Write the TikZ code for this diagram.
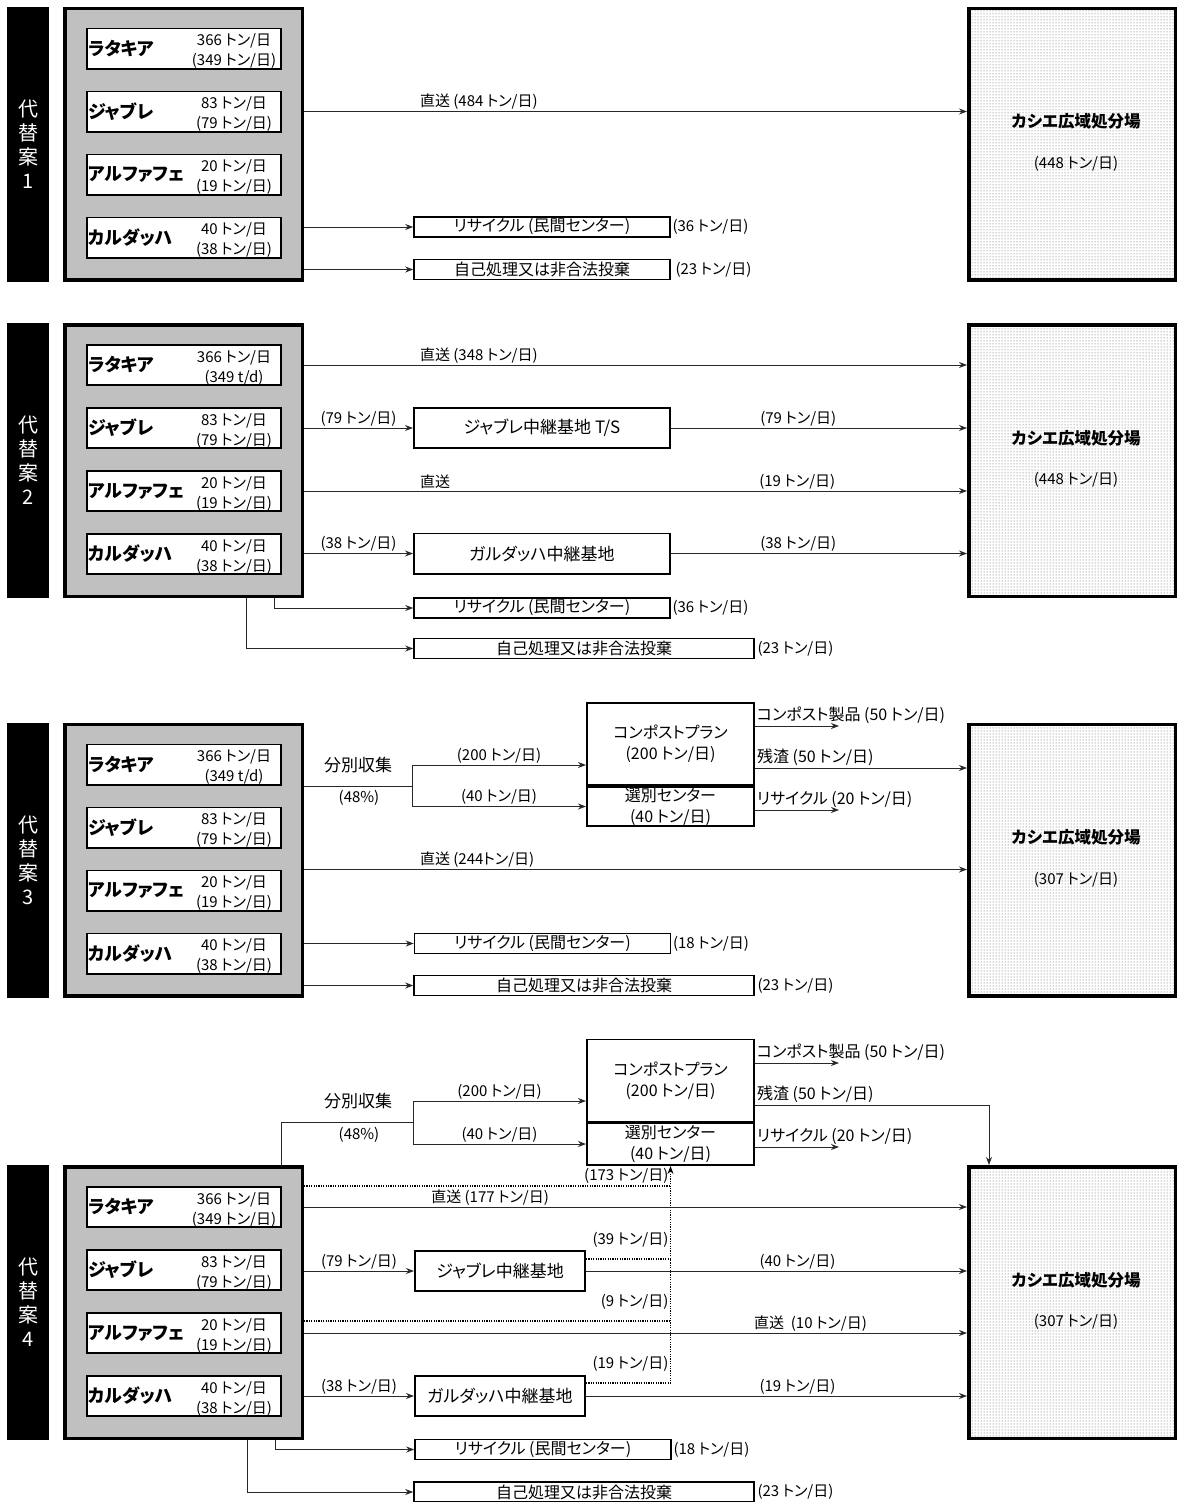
\documentclass[tikz,border=0pt]{standalone}
\usepackage{fontspec}
\setmainfont{Noto Sans CJK JP}[RawFeature=+palt]
\usetikzlibrary{arrows.meta,patterns}
\definecolor{SrcGray}{RGB}{192,192,192}
\definecolor{LineGray}{RGB}{40,40,40}

\begin{document}
\begin{tikzpicture}[x=1pt,y=-1pt,
  bar/.style={fill=black,minimum width=42pt,minimum height=275pt,text=white,align=center,
              font=\fontsize{20}{24}\selectfont},
  gbox/.style={draw,line width=3.5pt,fill=SrcGray,minimum width=237.5pt,minimum height=271.5pt},
  dump/.style={draw,line width=3.5pt,pattern=dots,pattern color=black!65,
               minimum width=206.5pt,minimum height=271.5pt},
  src/.style={draw,line width=1.6pt,fill=white,minimum width=194.4pt,minimum height=40.4pt},
  sname/.style={anchor=west,font=\fontsize{18}{20}\bfseries\selectfont,inner sep=2pt},
  samt/.style={align=center,font=\fontsize{15}{20}\selectfont,inner sep=0pt},
  dname/.style={font=\fontsize{16.5}{20}\bfseries\selectfont},
  damt/.style={font=\fontsize{15}{16}\selectfont},
  relay/.style={draw,line width=1.6pt,fill=white,minimum height=40.4pt,font=\fontsize{17}{20}\selectfont},
  rcbox/.style={draw,line width=1.6pt,minimum width=256pt,minimum height=20pt,inner sep=0pt,
                font=\fontsize{16}{18}\selectfont},
  sfbox/.style={rcbox,minimum width=340pt},
  plant/.style={draw,line width=1.6pt,align=center,minimum width=167.4pt,inner sep=1pt,
                font=\fontsize{16}{21}\selectfont},
  sort/.style={font=\fontsize{17}{20}\selectfont},
  lbl/.style={font=\fontsize{15}{16}\selectfont,inner sep=1.5pt},
  olbl/.style={font=\fontsize{16}{18}\selectfont,inner sep=1.5pt},
  line/.style={line width=1pt,draw=LineGray},
  arrow/.style={-{Stealth[length=8pt,width=6pt]},line width=1pt,draw=LineGray},
  dotline/.style={line width=1.2pt,draw=black,dash pattern=on 1.2pt off 1.2pt}
]
\useasboundingbox (0,0) rectangle (1184,1502);
\fill[white] (0,0) rectangle (1184,1502);

% the four source groups and the landfill
\foreach \pn/\py/\ra/\lt in {1/6.5/{(349 トン/日)}/448, 2/323/{(349 t/d)}/448,
                               3/722.5/{(349 t/d)}/307, 4/1165/{(349 トン/日)}/307}{
  \node[bar] (bar\pn) at (28,\py+137.5) {代\\替\\案\\\pn};
  \node[gbox] (g\pn) at (183.5,\py+137.5) {};
  \node[dump] (lf\pn) at (1072,\py+137.5) {};
  \node[dname] (lfn\pn) at (1076,\py+115) {カシエ広域処分場};
  \node[damt] (lfa\pn) at (1076,\py+157) {(\lt\ トン/日)};
  \node[src] (la\pn) at (184,\py+42) {};
  \node[src] (ja\pn) at (184,\py+105) {};
  \node[src] (al\pn) at (184,\py+168) {};
  \node[src] (ka\pn) at (184,\py+231) {};
  \node[sname] (lan\pn) at (la\pn.west) {ラタキア};
  \node[sname] (jan\pn) at (ja\pn.west) {ジャブレ};
  \node[sname] (aln\pn) at (al\pn.west) {アルファフェ};
  \node[sname] (kan\pn) at (ka\pn.west) {カルダッハ};
  \node[samt] (laa\pn) at ([xshift=50pt,yshift=-3pt]la\pn.center) {366 トン/日\\\ra};
  \node[samt] (jaa\pn) at ([xshift=50pt,yshift=-3pt]ja\pn.center) {83 トン/日\\(79 トン/日)};
  \node[samt] (ala\pn) at ([xshift=50pt,yshift=-3pt]al\pn.center) {20 トン/日\\(19 トン/日)};
  \node[samt] (kaa\pn) at ([xshift=50pt,yshift=-3pt]ka\pn.center) {40 トン/日\\(38 トン/日)};
}

% alternative 1
\draw[arrow] (g1.east |- ja1) -- node[lbl,pos=0.172,anchor=south west] (t1a) {直送 (484 トン/日)} (lf1.west |- ja1);
\node[rcbox] (rc1) at (542,227) {リサイクル (民間センター)};
\node[rcbox] (sf1) at (542,269.5) {自己処理又は非合法投棄};
\node[lbl,anchor=west] (rc1v) at (rc1.east) {(36 トン/日)};
\node[lbl,anchor=west] (sf1v) at ([xshift=3pt]sf1.east) {(23 トン/日)};
\draw[arrow] (g1.east |- rc1) -- (rc1);
\draw[arrow] (g1.east |- sf1) -- (sf1);

% alternative 2
\draw[arrow] (g2.east |- la2) -- node[lbl,pos=0.172,anchor=south west] (t2a) {直送 (348 トン/日)} (lf2.west |- la2);
\node[relay,minimum width=256.4pt] (ts2) at (542,428) {ジャブレ中継基地 T/S};
\draw[arrow] (g2.east |- ts2) -- node[lbl,above] (t2b) {(79 トン/日)} (ts2);
\draw[arrow] (ts2) -- node[lbl,pos=0.43,above] (t2c) {(79 トン/日)} (lf2.west |- ts2);
\draw[arrow] (g2.east |- al2) -- node[lbl,pos=0.172,anchor=south west] (t2d) {直送}
  node[lbl,pos=0.744,above] (t2e) {(19 トン/日)} (lf2.west |- al2);
\node[relay,minimum width=256.4pt] (gd2) at (542,553.5) {ガルダッハ中継基地};
\draw[arrow] (g2.east |- gd2) -- node[lbl,above] (t2f) {(38 トン/日)} (gd2);
\draw[arrow] (gd2) -- node[lbl,pos=0.43,above] (t2g) {(38 トン/日)} (lf2.west |- gd2);
\node[rcbox] (rc2) at (542,608) {リサイクル (民間センター)};
\node[sfbox] (sf2) at (584,648.5) {自己処理又は非合法投棄};
\node[lbl,anchor=west] (rc2v) at (rc2.east) {(36 トン/日)};
\node[lbl,anchor=west] (sf2v) at ([xshift=1pt]sf2.east) {(23 トン/日)};
\draw[arrow] ([xshift=211pt]g2.south west) |- (rc2);
\draw[arrow] ([xshift=183pt]g2.south west) |- (sf2);

% alternative 3
\coordinate (sp3) at (412,786);
\node[plant,minimum height=82.4pt] (cp3) at (670.5,744) {コンポストプラン\\(200 トン/日)};
\node[plant,minimum height=39.4pt] (sel3) at (670.5,806.5) {選別センター\\(40 トン/日)};
\node[sort] (sb3) at (358,765) {分別収集};
\node[lbl] (pc3) at (359,798) {(48\%)};
\draw[line] (g3.east |- sp3) -- (sp3);
\draw[arrow] (sp3) |- node[lbl,pos=0.75,above] (t3a) {(200 トン/日)} ([yshift=-21pt]cp3.west);
\draw[arrow] (sp3) |- node[lbl,pos=0.75,above] (t3b) {(40 トン/日)} (sel3.west);
\coordinate (cpo3) at (839,726);
\draw[arrow] (cp3.east |- cpo3) -- node[olbl,at start,anchor=south west] (t3c) {コンポスト製品 (50 トン/日)} (cpo3);
\path ([yshift=-24pt]cp3.east) coordinate (r3);
\draw[arrow] (r3) -- node[olbl,at start,anchor=south west] (t3d) {残渣 (50 トン/日)} (r3 -| lf3.west);
\coordinate (sro3) at (839,810);
\draw[arrow] (sel3.east |- sro3) -- node[olbl,at start,anchor=south west] (t3e) {リサイクル (20 トン/日)} (sro3);
\draw[arrow] (g3.east |- al3.north) -- node[lbl,pos=0.172,anchor=south west] (t3f) {直送 (244トン/日)} (lf3.west |- al3.north);
\node[rcbox] (rc3) at (542.5,943.5) {リサイクル (民間センター)};
\node[sfbox] (sf3) at (584,985.5) {自己処理又は非合法投棄};
\node[lbl,anchor=west] (rc3v) at (rc3.east) {(18 トン/日)};
\node[lbl,anchor=west] (sf3v) at ([xshift=1pt]sf3.east) {(23 トン/日)};
\draw[arrow] (g3.east |- rc3) -- (rc3);
\draw[arrow] (g3.east |- sf3) -- (sf3);

% alternative 4
\coordinate (sp4) at (413,1122);
\node[plant,minimum height=82.4pt] (cp4) at (670.5,1080.5) {コンポストプラン\\(200 トン/日)};
\node[plant,minimum height=42.4pt] (sel4) at (670.5,1144) {選別センター\\(40 トン/日)};
\node[sort] (sb4) at (358,1101) {分別収集};
\node[lbl] (pc4) at (359,1135) {(48\%)};
\draw[line] ([xshift=218pt]g4.north west) |- (sp4);
\draw[arrow] (sp4) |- node[lbl,pos=0.75,above] (t4a) {(200 トン/日)} ([yshift=-20.5pt]cp4.west);
\draw[arrow] (sp4) |- node[lbl,pos=0.75,above] (t4b) {(40 トン/日)} (sel4.west);
\coordinate (cpo4) at (839,1063);
\draw[arrow] (cp4.east |- cpo4) -- node[olbl,at start,anchor=south west] (t4c) {コンポスト製品 (50 トン/日)} (cpo4);
\path ([yshift=-24.5pt]cp4.east) coordinate (r4);
\draw[arrow] (r4) -| node[olbl,pos=0,anchor=south west] (t4d) {残渣 (50 トン/日)} ([xshift=22pt]lf4.north west);
\coordinate (sro4) at (839,1147);
\draw[arrow] (sel4.east |- sro4) -- node[olbl,at start,anchor=south west] (t4e) {リサイクル (20 トン/日)} (sro4);

\node[relay,minimum width=170.4pt] (jt4) at (500,1271) {ジャブレ中継基地};
\node[relay,minimum width=170.4pt] (gd4) at (500,1396) {ガルダッハ中継基地};
\draw[arrow] (g4.east |- la4) -- node[lbl,pos=0.189,anchor=south west] (t4f) {直送 (177 トン/日)} (lf4.west |- la4);
\draw[arrow] (g4.east |- jt4) -- node[lbl,above] (t4g) {(79 トン/日)} (jt4);
\draw[arrow] (jt4) -- node[lbl,pos=0.555,above] (t4h) {(40 トン/日)} (lf4.west |- jt4);
\draw[arrow] (g4.east |- al4) -- node[lbl,pos=0.676,anchor=south west] (t4i) {直送\ \ (10 トン/日)} (lf4.west |- al4);
\draw[arrow] (g4.east |- gd4) -- node[lbl,above] (t4j) {(38 トン/日)} (gd4);
\draw[arrow] (gd4) -- node[lbl,pos=0.555,above] (t4k) {(19 トン/日)} (lf4.west |- gd4);

% dotted flows to the sorting centre
\path (gd4.north east) ++(0,8) coordinate (d19);
\path (jt4.north east) ++(0,9) coordinate (d39);
\path (g4.east |- al4.north) ++(0,9) coordinate (d9);
\draw[arrow,dotline] (d19) -| node[lbl,pos=0.5,anchor=south east,yshift=9pt] (t4l) {(19 トン/日)} (sel4.south);
\draw[dotline] (g4.east |- la4.north) -- node[lbl,at end,anchor=south east] (t4m) {(173 トン/日)} (sel4.south |- la4.north);
\draw[dotline] (d39) -- node[lbl,at end,anchor=south east,yshift=9pt] (t4n) {(39 トン/日)} (d39 -| sel4.south);
\draw[dotline] (d9) -- node[lbl,at end,anchor=south east,yshift=9pt] (t4o) {(9 トン/日)} (d9 -| sel4.south);

\node[rcbox] (rc4) at (543,1449.5) {リサイクル (民間センター)};
\node[sfbox] (sf4) at (584,1492) {自己処理又は非合法投棄};
\node[lbl,anchor=west] (rc4v) at (rc4.east) {(18 トン/日)};
\node[lbl,anchor=west] (sf4v) at ([xshift=1pt]sf4.east) {(23 トン/日)};
\draw[arrow] ([xshift=212pt]g4.south west) |- (rc4);
\draw[arrow] ([xshift=184pt]g4.south west) |- (sf4);
\end{tikzpicture}
\end{document}
